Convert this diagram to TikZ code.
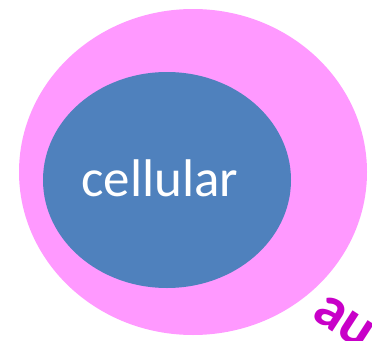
\documentclass[tikz,border=0pt]{standalone}
\usepackage{fontspec}
\setmainfont{Carlito}
\definecolor{rose}{HTML}{FF99FF}
\definecolor{bleu}{HTML}{4F81BD}
\definecolor{mauve}{HTML}{C800C8}
\newcommand{\zone}[4]{\fill[#4] (#1) ellipse ({#2} and {#3})}

\begin{document}
\begin{tikzpicture}[x=1pt, y=-1pt]
	\useasboundingbox (0,0) rectangle (372,340);
	\clip (0,0) rectangle (372,340);
%Outer set
	\zone{193,172}{174}{163}{rose};
%Inner set
	\zone{167,180}{124}{108}{bleu};
%Labels
	\node[white, font=\fontsize{53}{60}\selectfont] (cell) at (160,178) {cellular};
	\node[mauve, font=\fontsize{60}{66}\selectfont\bfseries, rotate=-33] (auto) at (344,322) {au};
\end{tikzpicture}
\end{document}
